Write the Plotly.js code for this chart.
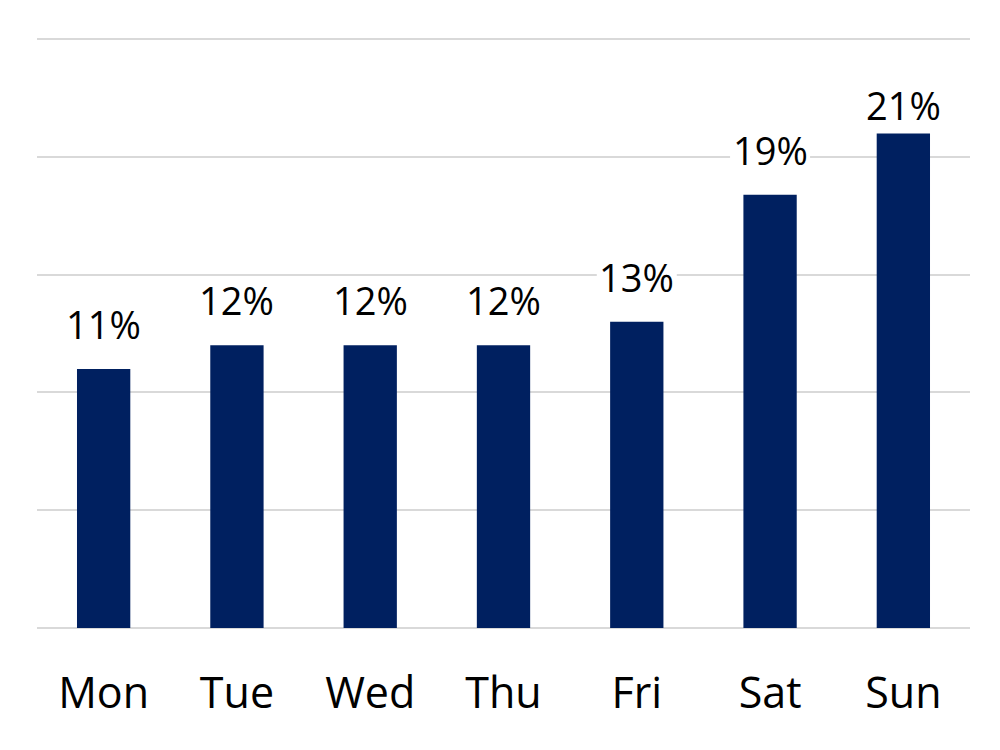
<!DOCTYPE html>
<html>
<head>
<meta charset="utf-8">
<script src="https://cdn.plot.ly/plotly-3.0.1.min.js"></script>
<style>html,body{margin:0;padding:0;background:#fff}#chart{width:1000px;height:750px}</style>
</head>
<body>
<div id="chart"></div>
<script>
const days = ["Mon", "Tue", "Wed", "Thu", "Fri", "Sat", "Sun"];
const shares = [11, 12, 12, 12, 13, 18.4, 21];
const labels = ["11%", "12%", "12%", "12%", "13%", "19%", "21%"];

const FONT = "Open Sans, Liberation Sans, sans-serif";
const YMAX = 25;

const trace = {
  type: "bar",
  x: days,
  y: shares,
  marker: {color: "#002060"},
  hoverinfo: "skip"
};

// Labels sit above the bars; the tallest bar's label is pulled down to stay inside the plot.
const shiftOf = v => (v > 20 ? 0 : 17);

const annotations = days.map((d, i) => ({
  x: d, y: shares[i], xref: "x", yref: "y",
  text: labels[i], showarrow: false,
  yanchor: "bottom", yshift: shiftOf(shares[i]),
  font: {family: FONT, size: 38, color: "#000000"}
}));

// Tight white backing behind the label glyphs (drawn above gridlines, below bars).
const shapes = days.map((d, i) => ({
  type: "rect", layer: "between",
  xref: "x", xsizemode: "pixel", xanchor: d, x0: -40, x1: 40,
  yref: "y", ysizemode: "pixel", yanchor: shares[i],
  y0: shiftOf(shares[i]) + 9, y1: shiftOf(shares[i]) + 38,
  fillcolor: "#ffffff", line: {width: 0}
}));

const layout = {
  width: 1000, height: 750,
  margin: {l: 37, r: 30, t: 38, b: 122},
  paper_bgcolor: "#ffffff", plot_bgcolor: "#ffffff",
  bargap: 0.6,
  showlegend: false,
  xaxis: {
    type: "category",
    showgrid: false, showline: false, zeroline: false,
    ticks: "", ticklabelstandoff: 36,
    tickfont: {family: FONT, size: 43, color: "#000000"}
  },
  yaxis: {
    range: [0, YMAX + 0.05], tickvals: [0, 5, 10, 15, 20, 25],
    showticklabels: false, ticks: "",
    showgrid: true, gridcolor: "#d9d9d9", gridwidth: 2,
    zeroline: true, zerolinecolor: "#d9d9d9", zerolinewidth: 2,
    showline: false, fixedrange: true
  },
  shapes: shapes,
  annotations: annotations
};

Plotly.newPlot("chart", [trace], layout, {displayModeBar: false, staticPlot: true});
</script>
</body>
</html>
